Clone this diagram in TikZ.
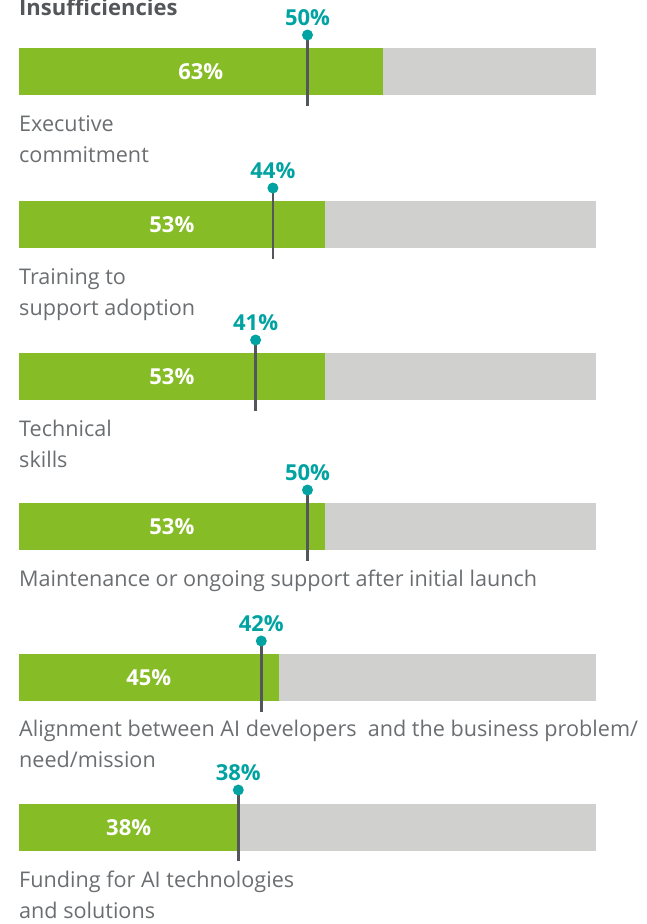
\documentclass[tikz,border=0pt]{standalone}
\usepackage{fontspec}
\setmainfont{Open Sans}
\usepackage{tikz}
\usetikzlibrary{positioning}

\definecolor{dgreen}{HTML}{86BC25}
\definecolor{dgray}{HTML}{D0D0CE}
\definecolor{dteal}{HTML}{00A3A1}
\definecolor{dstem}{HTML}{53565A}
\definecolor{dtext}{HTML}{6B6E71}

\begin{document}
\begin{tikzpicture}[x=1pt,y=-1pt,
    track/.style={fill=dgray},
    share/.style={fill=dgreen},
    sharelabel/.style={text=white,font=\fontsize{22}{26}\selectfont\bfseries,inner sep=0},
    stem/.style={draw=dstem,line width=2.6pt},
    pin/.style={fill=dteal},
    pinlabel/.style={text=dteal,font=\fontsize{22}{26}\selectfont\bfseries,inner sep=0,anchor=base},
    caption/.style={text=dtext,font=\fontsize{21.6}{31}\selectfont,align=left,anchor=north west,inner sep=0}]
                \useasboundingbox (0,0) rectangle (646,924);

                \node[text=dstem,font=\fontsize{22}{26}\selectfont\bfseries,anchor=base west,inner sep=0] (title) at (19,15) {Insufficiencies};

                % Executive commitment
                \fill[track] (19,48) rectangle (596,95);
                \fill[share] (19,48) rectangle (382.5,95);
                \node[sharelabel] (v1) at (200.8,72) {63\%};
                \coordinate (m1) at (307.5,35);
                \coordinate (m1e) at (307.5,106);
                \draw[stem] (m1) -- (m1e);
                \fill[pin] (m1) circle (5.5);
                \node[pinlabel] (p1) at (307.5,25) {50\%};
                \node[caption] (c1) at (19,115) {Executive\\commitment};

                % Training to support adoption
                \fill[track] (19,201) rectangle (596,248);
                \fill[share] (19,201) rectangle (324.8,248);
                \node[sharelabel] (v2) at (171.9,225) {53\%};
                \coordinate (m2) at (272.9,188);
                \coordinate (m2e) at (272.9,259);
                \draw[stem] (m2) -- (m2e);
                \fill[pin] (m2) circle (5.5);
                \node[pinlabel] (p2) at (272.9,178) {44\%};
                \node[caption] (c2) at (19,268) {Training to\\support adoption};

                % Technical skills
                \fill[track] (19,353) rectangle (596,400);
                \fill[share] (19,353) rectangle (324.8,400);
                \node[sharelabel] (v3) at (171.9,377) {53\%};
                \coordinate (m3) at (255.6,340);
                \coordinate (m3e) at (255.6,411);
                \draw[stem] (m3) -- (m3e);
                \fill[pin] (m3) circle (5.5);
                \node[pinlabel] (p3) at (255.6,330) {41\%};
                \node[caption] (c3) at (19,420) {Technical\\skills};

                % Maintenance
                \fill[track] (19,503) rectangle (596,550);
                \fill[share] (19,503) rectangle (324.8,550);
                \node[sharelabel] (v4) at (171.9,527) {53\%};
                \coordinate (m4) at (307.5,490);
                \coordinate (m4e) at (307.5,561);
                \draw[stem] (m4) -- (m4e);
                \fill[pin] (m4) circle (5.5);
                \node[pinlabel] (p4) at (307.5,480) {50\%};
                \node[caption] (c4) at (19,570) {Maintenance or ongoing support after initial launch};

                % Alignment
                \fill[track] (19,654) rectangle (596,701);
                \fill[share] (19,654) rectangle (278.6,701);
                \node[sharelabel] (v5) at (148.8,678) {45\%};
                \coordinate (m5) at (261.3,641);
                \coordinate (m5e) at (261.3,712);
                \draw[stem] (m5) -- (m5e);
                \fill[pin] (m5) circle (5.5);
                \node[pinlabel] (p5) at (261.3,631) {42\%};
                \node[caption] (c5) at (19,720) {Alignment between AI developers\ \ and the business problem/\\need/mission};

                % Funding
                \fill[track] (19,804) rectangle (596,851);
                \fill[share] (19,804) rectangle (238.3,851);
                \node[sharelabel] (v6) at (128.7,828) {38\%};
                \coordinate (m6) at (238.3,790);
                \coordinate (m6e) at (238.3,861);
                \draw[stem] (m6) -- (m6e);
                \fill[pin] (m6) circle (5.5);
                \node[pinlabel] (p6) at (238.3,780) {38\%};
                \node[caption] (c6) at (19,871) {Funding for AI technologies\\and solutions};
            \end{tikzpicture}
\end{document}
